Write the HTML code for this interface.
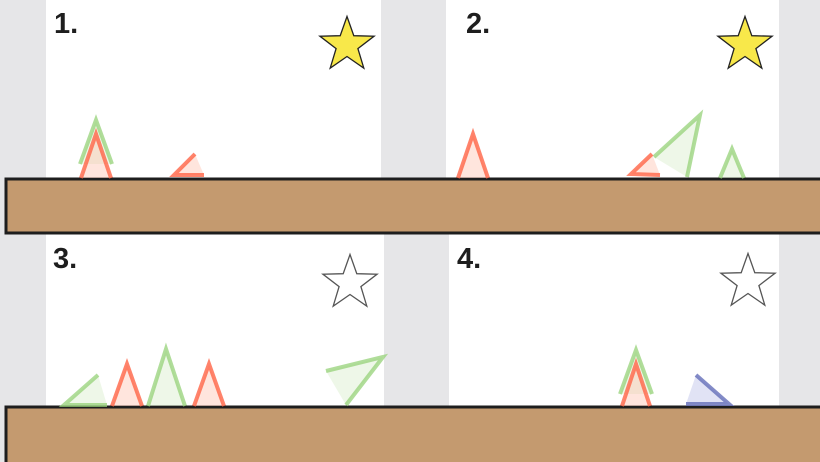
<!DOCTYPE html>
<html><head><meta charset="utf-8"><style>
html,body{margin:0;padding:0;background:#e6e6e8;}
svg{display:block}
text{font-family:"Liberation Sans",sans-serif;font-weight:bold;font-size:29px;fill:#1e1e1e}
</style></head><body>
<svg width="820" height="462">
<rect x="0" y="0" width="820" height="462" fill="#e6e6e8"/>
<rect x="46" y="0" width="335" height="180" fill="#fff"/>
<rect x="446" y="0" width="333" height="180" fill="#fff"/>
<rect x="46" y="234" width="338" height="174" fill="#fff"/>
<rect x="449" y="234" width="330" height="174" fill="#fff"/>
<rect x="6" y="179" width="816" height="54" fill="#c49a6f" stroke="#1e1e1e" stroke-width="3"/>
<rect x="6" y="407" width="816" height="58" fill="#c49a6f" stroke="#1e1e1e" stroke-width="3"/>
<text x="54" y="33">1.</text>
<text x="466" y="33">2.</text>
<text x="53" y="268">3.</text>
<text x="457" y="268">4.</text>
<g id="tri" stroke-width="4" stroke-linejoin="miter"></g>
<g id="stars"></g>
</svg>
<script>
const G={s:'rgba(150,210,120,0.75)',f:'rgba(200,230,180,0.3)'};
const R={s:'rgba(255,100,70,0.8)',f:'rgba(255,190,170,0.4)'};
const B={s:'rgba(100,110,185,0.8)',f:'rgba(170,175,225,0.35)'};
const tris=[
 [G,'80,164 96,120 112,164','tri-green-1a'],
 [R,'81,178 96,134 111,178','tri-red-1a'],
 [R,'195,154 174,175 204,175','tri-red-1b'],
 [R,'458,178 473,134 488,178','tri-red-2a'],
 [G,'654,157 700,115 687,177','tri-green-2a'],
 [R,'652,154 631,174 660,175','tri-red-2b'],
 [G,'720,178 732,149 744,178','tri-green-2b'],
 [G,'98,375 64,405 107,405','tri-green-3a'],
 [R,'112,406 127,364 142,406','tri-red-3a'],
 [G,'148,406 166,349 185,406','tri-green-3b'],
 [R,'194,406 209,364 224,406','tri-red-3b'],
 [G,'326,371 383,357 346,405','tri-green-3c'],
 [G,'620,394 636,350 652,394','tri-green-4a'],
 [R,'622,406 636,364 650,406','tri-red-4a'],
 [B,'696,375 729,404 686,404','tri-blue-4a']
];
const g=document.getElementById('tri');
tris.forEach(t=>{const p=document.createElementNS('http://www.w3.org/2000/svg','polyline');
p.setAttribute('points',t[1]);p.setAttribute('fill',t[0].f);p.setAttribute('stroke',t[0].s);


g.appendChild(p);});
const stars=[[347,45,'#f8e84a','star-1'],[745,45,'#f8e84a','star-2'],[350,283,'#fff','star-3'],[748,282,'#fff','star-4']];
const sg=document.getElementById('stars');
stars.forEach(s=>{let pts=[];for(let i=0;i<10;i++){const r=i%2?11.5:28.5;const a=-Math.PI/2+i*Math.PI/5;pts.push((s[0]+r*Math.cos(a)).toFixed(1)+','+(s[1]+r*Math.sin(a)).toFixed(1));}
const p=document.createElementNS('http://www.w3.org/2000/svg','polygon');
p.setAttribute('points',pts.join(' '));p.setAttribute('fill',s[2]);p.setAttribute('stroke',s[2]==='#fff'?'#555':'#222');p.setAttribute('stroke-width','1.3');


sg.appendChild(p);});
</script>
</body></html>
